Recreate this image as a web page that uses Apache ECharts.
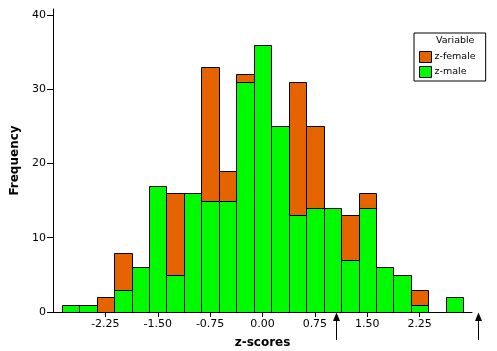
<!DOCTYPE html>
<html>
<head>
<meta charset="utf-8">
<script src="https://cdn.jsdelivr.net/npm/echarts@6/dist/echarts.min.js"></script>
<style>
  html, body { margin: 0; padding: 0; background: #fff; }
  #chart { width: 497px; height: 351px; }
</style>
</head>
<body>
<div id="chart"></div>
<script>
// bin centres (width 0.25)
const bins = [-2.75, -2.5, -2.25, -2, -1.75, -1.5, -1.25, -1, -0.75, -0.5, -0.25, 0, 0.25, 0.5, 0.75, 1, 1.25, 1.5, 1.75, 2, 2.25, 2.5, 2.75]
const female = [0, 1, 2, 8, 4, 9, 16, 12, 33, 19, 32, 24, 21, 31, 25, 11, 13, 16, 3, 3, 3, 0, 0]
const male = [1, 1, 0, 3, 6, 17, 5, 16, 15, 15, 31, 36, 25, 13, 14, 14, 7, 14, 6, 5, 1, 0, 2]
const xTicks = [-2.25, -1.5, -0.75, 0, 0.75, 1.5, 2.25]
const yTicks = [0, 10, 20, 30, 40]
const arrowValues = [1.05, 3.08]
const binWidth = 0.25

const font = 'DejaVu Sans'
const orange = '#e56400'
const green = '#00fa00'
const chart = echarts.init(document.getElementById('chart'))

// 直方图柱子
const histRender = (color) => (params, api) => {
  const x = api.value(0)
  const y = api.value(1)
  if (!y) return null
  const p0 = api.coord([x - binWidth / 2, y])
  const p1 = api.coord([x + binWidth / 2, 0])
  const left = Math.round(p0[0]) + 0.5
  const right = Math.round(p1[0]) + 0.5
  const top = Math.round(p0[1]) + 0.5
  const bottom = Math.round(p1[1]) + 0.5
  return {
    type: 'rect',
    shape: { x: left, y: top, width: right - left, height: bottom - top },
    style: { fill: color, stroke: '#000', lineWidth: 1 }
  }
}

const option = {
  backgroundColor: '#fff',
  animation: false,
  grid: { left: 53, right: 25, top: 9, bottom: 39, outerBoundsMode: 'none' },
  legend: {
    data: ['z-female', 'z-male'],
    orient: 'vertical',
    left: 414,
    top: 33,
    padding: [18, 10, 3, 5],
    itemWidth: 12,
    itemHeight: 11,
    itemGap: 3,
    icon: 'rect',
    borderColor: '#000',
    borderWidth: 1,
    itemStyle: { borderColor: '#000', borderWidth: 1 },
    textStyle: { fontFamily: font, fontSize: 9.5, color: '#000', padding: [0, 0, 0, -2] }
  },
  xAxis: {
    type: 'value',
    min: -3,
    max: 3,
    name: 'z-scores',
    nameLocation: 'middle',
    nameGap: 25,
    nameTextStyle: { fontFamily: font, fontSize: 12, fontWeight: 'bold', color: '#000' },
    splitLine: { show: false },
    axisLine: { onZero: false, lineStyle: { color: '#000', width: 1 } },
    axisTick: { length: 5, lineStyle: { color: '#000' }, customValues: xTicks },
    axisLabel: {
      customValues: xTicks,
      margin: 7,
      color: '#000',
      fontFamily: font,
      fontSize: 11,
      formatter: (v) => v.toFixed(2)
    }
  },
  yAxis: {
    type: 'value',
    min: 0,
    max: 40.8,
    name: 'Frequency',
    nameLocation: 'middle',
    nameRotate: 90,
    nameGap: 31,
    nameTextStyle: { fontFamily: font, fontSize: 12, fontWeight: 'bold', color: '#000' },
    splitLine: { show: false },
    axisLine: { show: true, onZero: false, lineStyle: { color: '#000', width: 1 } },
    axisTick: { show: true, length: 6, lineStyle: { color: '#000' }, customValues: yTicks },
    axisLabel: { customValues: yTicks, margin: 7, color: '#000', fontFamily: font, fontSize: 11 }
  },
  series: [
    {
      name: 'z-female',
      type: 'custom',
      itemStyle: { color: orange },
      encode: { x: 0, y: 1 },
      data: bins.map((b, i) => [b, female[i]]),
      renderItem: histRender(orange)
    },
    {
      name: 'z-male',
      type: 'custom',
      itemStyle: { color: green },
      encode: { x: 0, y: 1 },
      data: bins.map((b, i) => [b, male[i]]),
      renderItem: histRender(green)
    }
  ]
}

chart.setOption(option)

// 图例标题 + 下方箭头
const y0 = chart.convertToPixel({ yAxisIndex: 0 }, 0)
const graphics = [
  {
    type: 'text',
    left: 436,
    top: 36,
    style: { text: 'Variable', fontFamily: font, fontSize: 9.5, fill: '#000' }
  }
]
arrowValues.forEach((v) => {
  const x = Math.round(chart.convertToPixel({ xAxisIndex: 0 }, v)) + 0.5
  graphics.push({
    type: 'line',
    shape: { x1: x, y1: y0 + 28, x2: x, y2: y0 + 6 },
    style: { stroke: '#000', lineWidth: 1 }
  })
  graphics.push({
    type: 'polygon',
    shape: { points: [[x, y0 + 0.5], [x - 3.5, y0 + 9], [x + 3.5, y0 + 9]] },
    style: { fill: '#000' }
  })
})
chart.setOption({ graphic: graphics })
</script>
</body>
</html>
